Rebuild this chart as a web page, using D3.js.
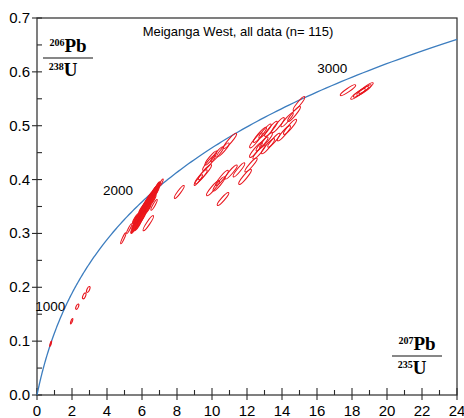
<!DOCTYPE html>
<html>
<head>
<meta charset="utf-8">
<script src="https://cdn.jsdelivr.net/npm/d3@7"></script>
<style>
  body { margin: 0; background: #fff; }
  svg { display: block; }
</style>
</head>
<body>
<svg width="464" height="418"></svg>
<script>
// 207Pb/235U, 206Pb/238U, 2 sigma abs errors and error correlation for each analysis
const pb207u235 = [
  0.78, 1.98, 2.30, 2.70, 2.93,
  5.62, 5.70, 5.78, 5.66, 5.85, 5.82, 5.90, 5.95, 5.98, 6.05, 6.02, 6.10, 6.12, 6.18, 6.20,
  6.25, 6.28, 6.33, 6.35, 6.40, 6.42, 6.48, 6.50, 6.55, 6.58, 6.62, 6.65, 6.70, 6.72, 6.78,
  6.80, 6.86, 6.60, 6.30, 6.00, 5.75, 5.55, 6.90,
  4.93, 5.27, 6.36, 7.09, 6.69, 8.13, 9.22,
  11.03, 10.63, 10.29, 9.94, 9.83, 9.60, 9.37, 10.57, 10.40, 10.06, 11.09, 11.54, 11.89, 12.23, 10.63,
  12.51, 12.74, 13.03, 13.37, 12.86, 12.51, 13.20, 13.54, 13.77, 14.11, 14.29, 14.46, 14.69, 14.97, 12.69, 13.09,
  17.77, 18.34, 18.51, 18.69, 18.80
];
const pb206u238 = [
  0.095, 0.137, 0.164, 0.184, 0.196,
  0.318, 0.322, 0.326, 0.328, 0.322, 0.331, 0.335, 0.328, 0.340, 0.336, 0.346, 0.342, 0.350, 0.347, 0.355,
  0.352, 0.358, 0.355, 0.362, 0.359, 0.366, 0.362, 0.369, 0.366, 0.372, 0.370, 0.376, 0.373, 0.379, 0.377,
  0.382, 0.385, 0.362, 0.345, 0.330, 0.315, 0.310, 0.389,
  0.291, 0.309, 0.319, 0.394, 0.353, 0.377, 0.399,
  0.472, 0.455, 0.447, 0.440, 0.431, 0.414, 0.405, 0.403, 0.392, 0.384, 0.414, 0.418, 0.405, 0.427, 0.364,
  0.473, 0.483, 0.490, 0.494, 0.466, 0.455, 0.462, 0.473, 0.501, 0.486, 0.511, 0.498, 0.522, 0.541, 0.451, 0.473,
  0.566, 0.559, 0.563, 0.566, 0.570
];
const err207 = [
  0.05, 0.07, 0.09, 0.10, 0.10,
  0.20, 0.19, 0.21, 0.20, 0.22, 0.20, 0.21, 0.19, 0.20, 0.22, 0.21, 0.20, 0.19, 0.21, 0.20,
  0.22, 0.20, 0.21, 0.19, 0.20, 0.22, 0.21, 0.20, 0.19, 0.21, 0.20, 0.22, 0.20, 0.19, 0.21,
  0.20, 0.18, 0.20, 0.21, 0.22, 0.20, 0.19, 0.14,
  0.15, 0.15, 0.30, 0.12, 0.18, 0.28, 0.24,
  0.37, 0.35, 0.36, 0.34, 0.36, 0.37, 0.35, 0.36, 0.34, 0.37, 0.35, 0.33, 0.36, 0.35, 0.33,
  0.36, 0.37, 0.35, 0.36, 0.34, 0.36, 0.37, 0.35, 0.36, 0.38, 0.35, 0.37, 0.36, 0.33, 0.35, 0.36,
  0.44, 0.42, 0.43, 0.42, 0.41
];
const err206 = [
  0.005, 0.005, 0.005, 0.0055, 0.0055,
  0.010, 0.010, 0.011, 0.010, 0.011, 0.010, 0.010, 0.011, 0.010, 0.011, 0.010, 0.010, 0.011, 0.010, 0.010,
  0.011, 0.010, 0.010, 0.011, 0.010, 0.011, 0.010, 0.010, 0.011, 0.010, 0.010, 0.011, 0.010, 0.010, 0.011,
  0.010, 0.009, 0.010, 0.010, 0.011, 0.010, 0.010, 0.007,
  0.010, 0.009, 0.014, 0.007, 0.010, 0.012, 0.010,
  0.014, 0.013, 0.014, 0.013, 0.014, 0.014, 0.013, 0.014, 0.013, 0.014, 0.013, 0.013, 0.014, 0.013, 0.012,
  0.014, 0.014, 0.013, 0.014, 0.013, 0.014, 0.014, 0.013, 0.014, 0.014, 0.013, 0.014, 0.014, 0.013, 0.013, 0.014,
  0.0100, 0.0098, 0.0098, 0.0098, 0.0098
];
const rho = [
  0.9, 0.8, 0.6, 0.6, 0.6,
  0.88, 0.88, 0.88, 0.88, 0.88, 0.88, 0.88, 0.88, 0.88, 0.88, 0.88, 0.88, 0.88, 0.88, 0.88,
  0.88, 0.88, 0.88, 0.88, 0.88, 0.88, 0.88, 0.88, 0.88, 0.88, 0.88, 0.88, 0.88, 0.88, 0.88,
  0.88, 0.88, 0.88, 0.88, 0.88, 0.88, 0.88, 0.85,
  0.92, 0.92, 0.93, 0.88, 0.92, 0.92, 0.92,
  0.92, 0.92, 0.92, 0.92, 0.92, 0.92, 0.92, 0.92, 0.92, 0.92, 0.92, 0.92, 0.92, 0.92, 0.92,
  0.92, 0.92, 0.92, 0.92, 0.92, 0.92, 0.92, 0.92, 0.92, 0.92, 0.92, 0.92, 0.92, 0.92, 0.92, 0.92,
  0.92, 0.92, 0.92, 0.92, 0.92
];
// analyses forming the dense, overlapping cluster near 2000 Ma (drawn filled)
const denseCluster = d3.range(5, 43);

const ageLabels = [1000, 2000, 3000]; // Ma
const xTicks = [0, 2, 4, 6, 8, 10, 12, 14, 16, 18, 20, 22, 24];
const yTicks = [0.0, 0.1, 0.2, 0.3, 0.4, 0.5, 0.6, 0.7];
const title = "Meiganga West, all data (n= 115)";

const L238 = 1.55125e-10, L235 = 9.8485e-10;

const svg = d3.select("svg");
const x = d3.scaleLinear().domain([0, 24]).range([37, 457]);
const y = d3.scaleLinear().domain([0, 0.7]).range([395, 18]);
const sans = "Liberation Sans, Arial, sans-serif";

// frame
svg.append("rect")
  .attr("x", x(0)).attr("y", y(0.7))
  .attr("width", x(24) - x(0)).attr("height", y(0) - y(0.7))
  .attr("fill", "none").attr("stroke", "#2a2a2a").attr("stroke-width", 1.2);

// x ticks
const xMinor = d3.range(1, 24, 2);
svg.selectAll(".xmaj").data(xTicks).join("line")
  .attr("x1", d => x(d)).attr("x2", d => x(d))
  .attr("y1", y(0) - 7).attr("y2", y(0) + 5)
  .attr("stroke", "#2a2a2a").attr("stroke-width", 1.1);
svg.selectAll(".xmin").data(xMinor).join("line")
  .attr("x1", d => x(d)).attr("x2", d => x(d))
  .attr("y1", y(0) - 5).attr("y2", y(0))
  .attr("stroke", "#2a2a2a").attr("stroke-width", 1.1);
svg.selectAll(".xlab").data(xTicks).join("text")
  .attr("x", d => x(d)).attr("y", 416)
  .attr("text-anchor", "middle")
  .attr("font-family", sans)
  .attr("font-size", 15)
  .text(d => d);

// y ticks
const yMinor = d3.range(0.05, 0.7, 0.1);
svg.selectAll(".ymaj").data(yTicks).join("line")
  .attr("x1", x(0) - 5).attr("x2", x(0) + 5)
  .attr("y1", d => y(d)).attr("y2", d => y(d))
  .attr("stroke", "#2a2a2a").attr("stroke-width", 1.1);
svg.selectAll(".ymin").data(yMinor).join("line")
  .attr("x1", x(0)).attr("x2", x(0) + 5)
  .attr("y1", d => y(d)).attr("y2", d => y(d))
  .attr("stroke", "#2a2a2a").attr("stroke-width", 1.1);
svg.selectAll(".ylab").data(yTicks).join("text")
  .attr("x", 30).attr("y", d => y(d) + 5)
  .attr("text-anchor", "end")
  .attr("font-family", sans)
  .attr("font-size", 15)
  .text(d => d.toFixed(1));

// concordia curve
const tMax = Math.log(25) / L235;
const curve = d3.range(0, 1.0001, 0.005).map(f => {
  const t = f * tMax;
  return [Math.exp(L235 * t) - 1, Math.exp(L238 * t) - 1];
});
svg.append("path")
  .datum(curve)
  .attr("d", d3.line().x(d => x(d[0])).y(d => y(d[1])))
  .attr("fill", "none").attr("stroke", "#3c7dbf").attr("stroke-width", 1.3);

// age labels
const labelOffset = { 1000: [-1, 6], 2000: [-12, -4], 3000: [-8, -3] };
svg.selectAll(".age").data(ageLabels).join("text")
  .attr("x", d => x(Math.exp(L235 * d * 1e6) - 1) + labelOffset[d][0])
  .attr("y", d => y(Math.exp(L238 * d * 1e6) - 1) + labelOffset[d][1])
  .attr("text-anchor", "end")
  .attr("font-family", sans)
  .attr("font-size", 13.5)
  .text(d => d);

// error ellipses
const kx = x(1) - x(0), ky = y(1) - y(0);
const ellipses = pb207u235.map((v, i) => {
  const sxp = err207[i] * kx, syp = err206[i] * ky;
  const a = sxp * sxp, dd = syp * syp, b = rho[i] * sxp * syp;
  const m = (a + dd) / 2, r = Math.sqrt(((a - dd) / 2) ** 2 + b * b);
  return {
    cx: x(v), cy: y(pb206u238[i]),
    rx: Math.sqrt(m + r), ry: Math.sqrt(Math.max(m - r, 0.3)),
    ang: 0.5 * Math.atan2(2 * b, a - dd) * 180 / Math.PI,
    dense: denseCluster.includes(i)
  };
});
svg.selectAll(".ell").data(ellipses).join("ellipse")
  .attr("transform", d => `translate(${d.cx},${d.cy}) rotate(${d.ang})`)
  .attr("rx", d => d.rx).attr("ry", d => d.ry)
  .attr("fill", d => d.dense ? "#f01a1a" : "none")
  .attr("stroke", "#e8161e").attr("stroke-width", 1.1);

// title
svg.append("text")
  .attr("x", 238).attr("y", 36)
  .attr("text-anchor", "middle")
  .attr("font-family", sans)
  .attr("font-size", 13)
  .text(title);

// axis ratio labels
function ratioLabel(cx, top, num, numEl, den, denEl) {
  const g = svg.append("g").attr("font-family", "Liberation Serif, Times New Roman, serif")
    .attr("font-weight", "bold");
  const t1 = g.append("text").attr("x", cx).attr("y", top).attr("text-anchor", "middle");
  t1.append("tspan").attr("font-size", 10).attr("dy", -6).text(num);
  t1.append("tspan").attr("font-size", 19).attr("dy", 6).text(numEl);
  g.append("line").attr("x1", cx - 25).attr("x2", cx + 25)
    .attr("y1", top + 6).attr("y2", top + 6)
    .attr("stroke", "#111").attr("stroke-width", 1.2);
  const t2 = g.append("text").attr("x", cx - 5).attr("y", top + 24).attr("text-anchor", "middle");
  t2.append("tspan").attr("font-size", 10).attr("dy", -6).text(den);
  t2.append("tspan").attr("font-size", 19).attr("dy", 6).text(denEl);
}
ratioLabel(68, 52, "206", "Pb", "238", "U");
ratioLabel(417, 350, "207", "Pb", "235", "U");
</script>
</body>
</html>
